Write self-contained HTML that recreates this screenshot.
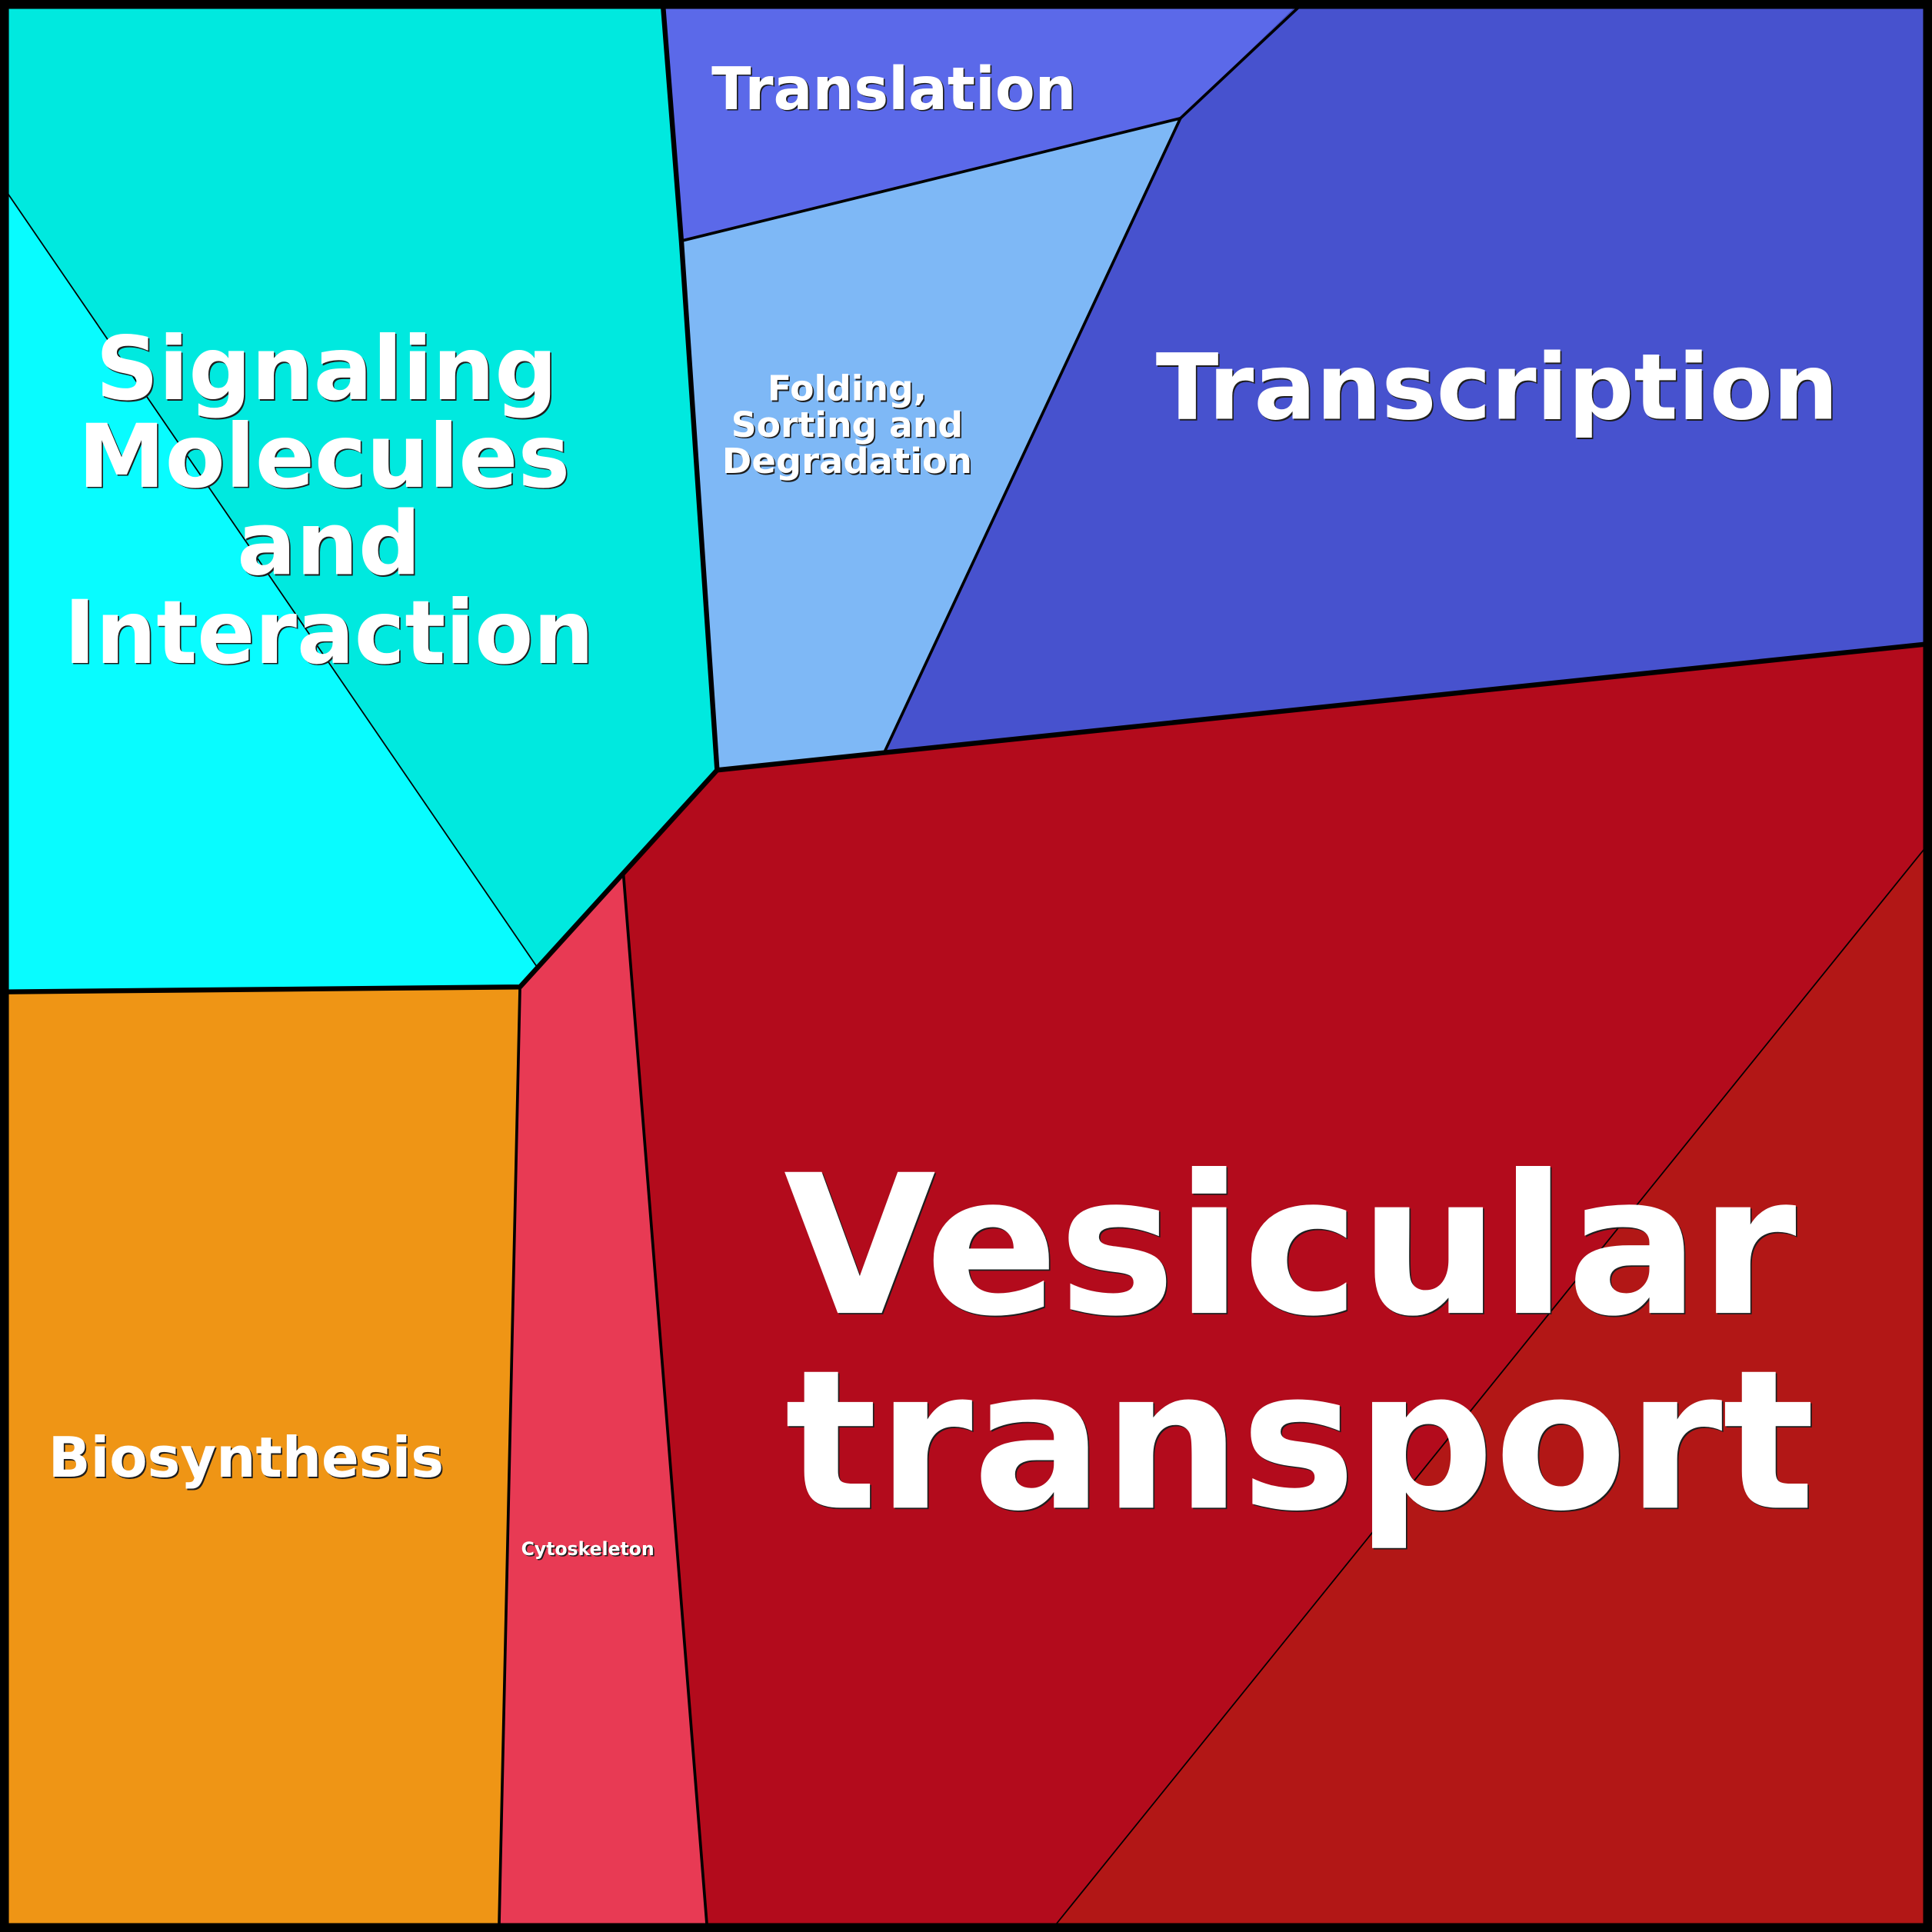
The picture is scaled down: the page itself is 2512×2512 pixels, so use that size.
<!DOCTYPE html>
<html>
<head>
<meta charset="utf-8">
<style>
  html, body { margin: 0; padding: 0; background: #000; }
  svg { display: block; }
  text { font-family: "DejaVu Sans", "Liberation Sans", sans-serif; font-weight: bold; }
</style>
</head>
<body>
<svg xmlns="http://www.w3.org/2000/svg" width="2512" height="2512" viewBox="0 0 1568 1568">
  <!-- Signaling region (dark cyan) -->
  <polygon points="0,0 538,0 553,195.5 582,625 422,801 0,805" fill="#00E9DF"/>
  <!-- Signaling light cyan sub-region -->
  <polygon points="0,147.8 436,785 422,801 0,805" fill="#08FCFF"/>
  <!-- Translation -->
  <polygon points="538,0 1057,0 958,96 553,195.5" fill="#5B69E9"/>
  <!-- Folding -->
  <polygon points="553,195.5 958,96 718,610 582,625" fill="#7EB8F6"/>
  <!-- Transcription -->
  <polygon points="1057,0 1568,0 1568,522.5 718,610 958,96" fill="#4752CE"/>
  <!-- Vesicular transport -->
  <polygon points="582,625 1568,522.5 1568,1568 574,1568 506,710" fill="#B30B1C"/>
  <!-- Vesicular lower-right -->
  <polygon points="1568,681.3 1568,1568 852,1568" fill="#B21716"/>
  <!-- Cytoskeleton -->
  <polygon points="506,710 574,1568 405,1568 422,801" fill="#E83A54"/>
  <!-- Biosynthesis -->
  <polygon points="0,805 422,801 405,1568 0,1568" fill="#EF9515"/>

  <!-- thin lines -->
  <line x1="0" y1="147.8" x2="436" y2="785" stroke="#000" stroke-width="1.1"/>
  <line x1="1568" y1="681.3" x2="852" y2="1568" stroke="#000" stroke-width="1.1"/>

  <!-- medium lines -->
  <g stroke="#000" stroke-width="2.3" fill="none" stroke-linejoin="round" stroke-linecap="round">
    <polyline points="553,195.5 958,96 1057,3"/>
    <line x1="958" y1="96" x2="718" y2="610"/>
    <line x1="506" y1="710" x2="574" y2="1566"/>
    <line x1="422" y1="801" x2="405" y2="1566"/>
  </g>

  <!-- thick lines -->
  <g stroke="#000" stroke-width="4" fill="none" stroke-linejoin="round" stroke-linecap="round">
    <polyline points="538,3 553,195.5 582,625 1566,522.5"/>
    <polyline points="582,625 422,801 3,805"/>
  </g>

  <!-- outer border -->
  <rect x="3.6" y="3.6" width="1560.8" height="1560.8" fill="none" stroke="#000" stroke-width="7.2"/>

  <!-- Labels: shadow copies -->
  <g fill="#1e1e1e" transform="translate(1.1,1.1)" text-anchor="middle">
    <text x="725.5" y="88.6" font-size="48" textLength="296" lengthAdjust="spacingAndGlyphs">Translation</text>
    <text x="1215" y="340" font-size="74" textLength="554" lengthAdjust="spacingAndGlyphs">Transcription</text>
    <text x="687.5" y="325" font-size="28.5">Folding,</text>
    <text x="687.5" y="354.5" font-size="28.5">Sorting and</text>
    <text x="687.5" y="384" font-size="28.5" textLength="203" lengthAdjust="spacingAndGlyphs">Degradation</text>
    <text x="265" y="324" font-size="71">Signaling</text>
    <text x="263" y="395" font-size="71">Molecules</text>
    <text x="267" y="466" font-size="71">and</text>
    <text x="267" y="538" font-size="71" textLength="430" lengthAdjust="spacingAndGlyphs">Interaction</text>
    <text x="199.7" y="1198.5" font-size="45" textLength="321" lengthAdjust="spacingAndGlyphs">Biosynthesis</text>
    <text x="477" y="1262" font-size="15" textLength="108" lengthAdjust="spacingAndGlyphs">Cytoskeleton</text>
    <text x="1047" y="1065.6" font-size="157" textLength="822" lengthAdjust="spacingAndGlyphs">Vesicular</text>
    <text x="1055" y="1223.7" font-size="157" textLength="836" lengthAdjust="spacingAndGlyphs">transport</text>
  </g>
  <!-- Labels: white -->
  <g fill="#FFFFFF" text-anchor="middle">
    <text x="725.5" y="88.6" font-size="48" textLength="296" lengthAdjust="spacingAndGlyphs">Translation</text>
    <text x="1215" y="340" font-size="74" textLength="554" lengthAdjust="spacingAndGlyphs">Transcription</text>
    <text x="687.5" y="325" font-size="28.5">Folding,</text>
    <text x="687.5" y="354.5" font-size="28.5">Sorting and</text>
    <text x="687.5" y="384" font-size="28.5" textLength="203" lengthAdjust="spacingAndGlyphs">Degradation</text>
    <text x="265" y="324" font-size="71">Signaling</text>
    <text x="263" y="395" font-size="71">Molecules</text>
    <text x="267" y="466" font-size="71">and</text>
    <text x="267" y="538" font-size="71" textLength="430" lengthAdjust="spacingAndGlyphs">Interaction</text>
    <text x="199.7" y="1198.5" font-size="45" textLength="321" lengthAdjust="spacingAndGlyphs">Biosynthesis</text>
    <text x="477" y="1262" font-size="15" textLength="108" lengthAdjust="spacingAndGlyphs">Cytoskeleton</text>
    <text x="1047" y="1065.6" font-size="157" textLength="822" lengthAdjust="spacingAndGlyphs">Vesicular</text>
    <text x="1055" y="1223.7" font-size="157" textLength="836" lengthAdjust="spacingAndGlyphs">transport</text>
  </g>
</svg>
</body>
</html>
